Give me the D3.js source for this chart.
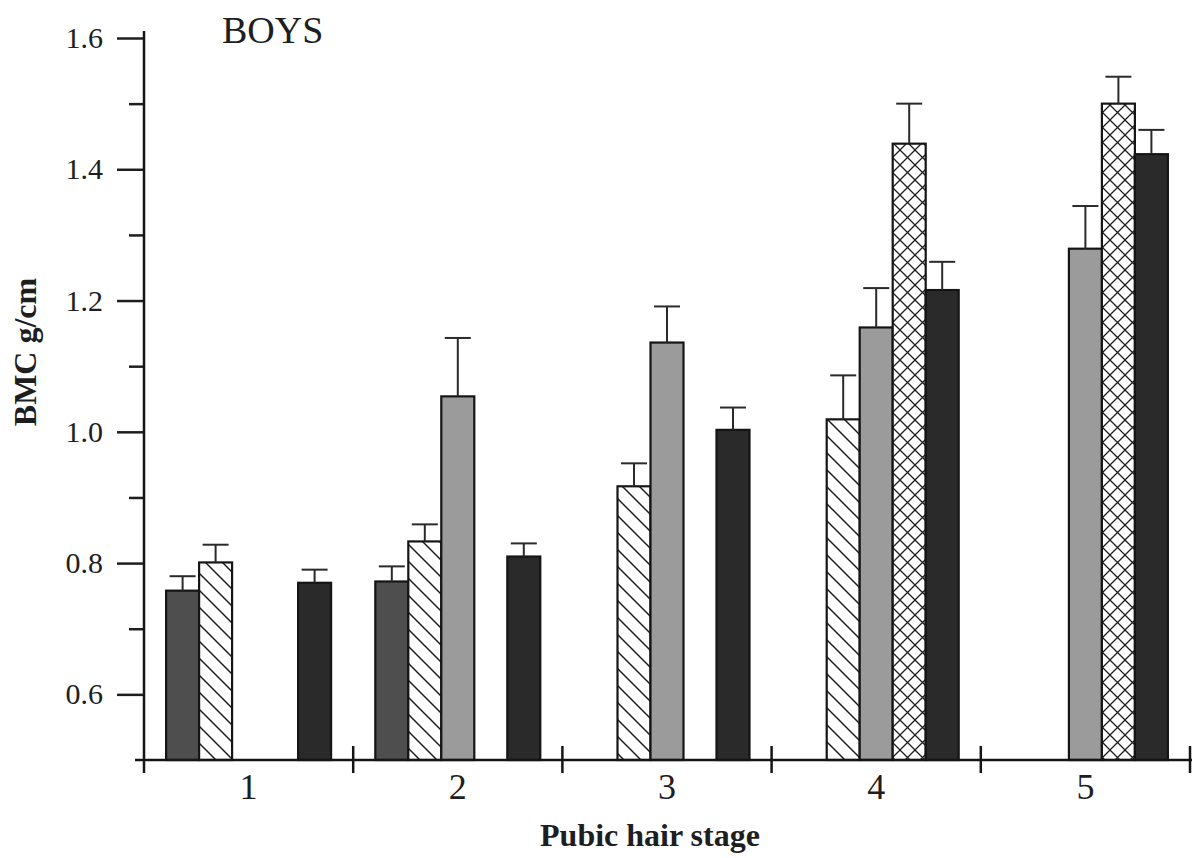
<!DOCTYPE html>
<html>
<head>
<meta charset="utf-8">
<script src="https://cdn.jsdelivr.net/npm/d3@7"></script>
<style>
  body { margin: 0; background: #fff; }
  svg text { font-family: "Liberation Serif", "Times New Roman", serif; fill: #1e1e1e; }
</style>
</head>
<body>
<div id="chart"></div>
<script>
// pubic hair stages (x groups)
const stages = ["1", "2", "3", "4", "5"];
// the five bar styles, in slot order within each stage
const seriesKeys = ["dark", "hatch", "light", "cross", "black"];

// means, BMC g/cm (null = no bar)
const darkMeans  = [0.758, 0.772, null, null, null];
const hatchMeans = [0.801, 0.833, 0.917, 1.019, null];
const lightMeans = [null, 1.054, 1.136, 1.159, 1.279];
const crossMeans = [null, null, null, 1.439, 1.500];
const blackMeans = [0.770, 0.810, 1.003, 1.216, 1.423];

// upper error (SE)
const darkErr  = [0.022, 0.023, null, null, null];
const hatchErr = [0.027, 0.026, 0.035, 0.067, null];
const lightErr = [null, 0.089, 0.055, 0.060, 0.065];
const crossErr = [null, null, null, 0.061, 0.041];
const blackErr = [0.020, 0.020, 0.034, 0.043, 0.037];

const majorTicks = [0.6, 0.8, 1.0, 1.2, 1.4, 1.6];
const minorTicks = [0.7, 0.9, 1.1, 1.3, 1.5];

const means = { dark: darkMeans, hatch: hatchMeans, light: lightMeans, cross: crossMeans, black: blackMeans };
const errs  = { dark: darkErr, hatch: hatchErr, light: lightErr, cross: crossErr, black: blackErr };

const bars = [];
stages.forEach((s, i) => {
    seriesKeys.forEach(k => {
        if (means[k][i] != null) bars.push({ stage: s, key: k, value: means[k][i], err: errs[k][i] });
    });
});

/** CONSTANTS */
const width = 1192,
    height = 858,
    margin = { top: 38, right: 2, bottom: 98, left: 144 };

const fills = {
    dark: "#4e4e4e",
    hatch: "url(#hatch)",
    light: "#9b9b9b",
    cross: "url(#cross)",
    black: "#2a2a2a"
};

/** SCALES */
const xScale = d3.scaleBand()
    .domain(stages)
    .range([margin.left, 1190])
    .padding(0);

const xInner = d3.scaleBand()
    .domain(seriesKeys)
    .range([0, xScale.bandwidth()])
    .paddingInner(0)
    .paddingOuter(0.67);

const yScale = d3.scaleLinear()
    .domain([0.5, 1.6])
    .range([height - margin.bottom, margin.top]);

/** MAIN CODE */
const svg = d3.select("#chart")
    .append("svg")
    .attr("width", width)
    .attr("height", height);

// patterns
const defs = svg.append("defs");
const hp = defs.append("pattern")
    .attr("id", "hatch")
    .attr("patternUnits", "userSpaceOnUse")
    .attr("width", 17).attr("height", 17);
hp.append("rect").attr("width", 17).attr("height", 17).attr("fill", "#fff");
hp.append("path")
    .attr("d", "M-4,-4 L21,21 M-4,13 L4,21 M13,-4 L21,4")
    .attr("stroke", "#1e1e1e").attr("stroke-width", 1.5);

const cp = defs.append("pattern")
    .attr("id", "cross")
    .attr("patternUnits", "userSpaceOnUse")
    .attr("width", 15).attr("height", 15);
cp.append("rect").attr("width", 15).attr("height", 15).attr("fill", "#fff");
cp.append("path")
    .attr("d", "M-2,-2 L17,17 M-2,17 L17,-2 M-2,13 L2,17 M13,-2 L17,2 M-2,2 L2,-2 M13,17 L17,13")
    .attr("stroke", "#1e1e1e").attr("stroke-width", 1.3);

// bars
svg.selectAll("rect.bar")
    .data(bars)
    .join("rect")
    .attr("class", "bar")
    .attr("x", d => xScale(d.stage) + xInner(d.key))
    .attr("y", d => yScale(d.value))
    .attr("width", xInner.bandwidth())
    .attr("height", d => yScale(0.5) - yScale(d.value))
    .attr("fill", d => fills[d.key])
    .attr("stroke", "#151515")
    .attr("stroke-width", 2.2);

// error bars (upper only)
const eb = svg.selectAll("g.err")
    .data(bars)
    .join("g")
    .attr("class", "err")
    .attr("transform", d => `translate(${xScale(d.stage) + xInner(d.key) + xInner.bandwidth() / 2},0)`)
    .attr("stroke", "#2a2a2a")
    .attr("stroke-width", 2);

eb.append("line")
    .attr("y1", d => yScale(d.value))
    .attr("y2", d => yScale(d.value + d.err));
eb.append("line")
    .attr("x1", -13).attr("x2", 13)
    .attr("y1", d => yScale(d.value + d.err))
    .attr("y2", d => yScale(d.value + d.err));

// y axis
const yAxis = d3.axisLeft(yScale)
    .tickValues(majorTicks)
    .tickSize(27)
    .tickPadding(14)
    .tickFormat(d3.format(".1f"));

const yMinor = d3.axisLeft(yScale)
    .tickValues(minorTicks)
    .tickSize(15)
    .tickFormat("");

const gy = svg.append("g")
    .attr("transform", `translate(${margin.left},0)`)
    .call(yAxis);
gy.select(".domain").remove();
gy.selectAll(".tick line").attr("stroke", "#1e1e1e").attr("stroke-width", 2.5);
gy.selectAll(".tick text")
    .attr("font-size", 30);

const gym = svg.append("g")
    .attr("transform", `translate(${margin.left},0)`)
    .call(yMinor);
gym.select(".domain").remove();
gym.selectAll(".tick line").attr("stroke", "#1e1e1e").attr("stroke-width", 2.5);

svg.append("line")
    .attr("x1", margin.left).attr("x2", margin.left)
    .attr("y1", yScale(1.6) - 7)
    .attr("y2", yScale(0.5) + 13)
    .attr("stroke", "#151515").attr("stroke-width", 2.5);

// x axis
const xAxis = d3.axisBottom(xScale)
    .tickSize(0)
    .tickPadding(13);

const gx = svg.append("g")
    .attr("transform", `translate(0,${yScale(0.5)})`)
    .call(xAxis);
gx.select(".domain").remove();
gx.selectAll(".tick text")
    .attr("font-size", 36);

svg.append("line")
    .attr("x1", margin.left - 9).attr("x2", width)
    .attr("y1", yScale(0.5)).attr("y2", yScale(0.5))
    .attr("stroke", "#151515").attr("stroke-width", 2.5);

// group boundary ticks
const bounds = stages.slice(1).map(s => xScale(s)).concat([xScale.range()[1]]);
svg.selectAll("line.bound")
    .data(bounds)
    .join("line")
    .attr("class", "bound")
    .attr("x1", d => d).attr("x2", d => d)
    .attr("y1", yScale(0.5) - 14)
    .attr("y2", yScale(0.5) + 13)
    .attr("stroke", "#151515").attr("stroke-width", 2.5);

// titles
svg.append("text")
    .attr("x", 222).attr("y", 43)
    .attr("font-size", 38)
    .text("BOYS");

svg.append("text")
    .attr("x", 650).attr("y", 846)
    .attr("text-anchor", "middle")
    .attr("font-size", 32)
    .attr("font-weight", "bold")
    .text("Pubic hair stage");

svg.append("text")
    .attr("transform", "translate(36,352) rotate(-90)")
    .attr("text-anchor", "middle")
    .attr("font-size", 32)
    .attr("font-weight", "bold")
    .text("BMC g/cm");
</script>
</body>
</html>
